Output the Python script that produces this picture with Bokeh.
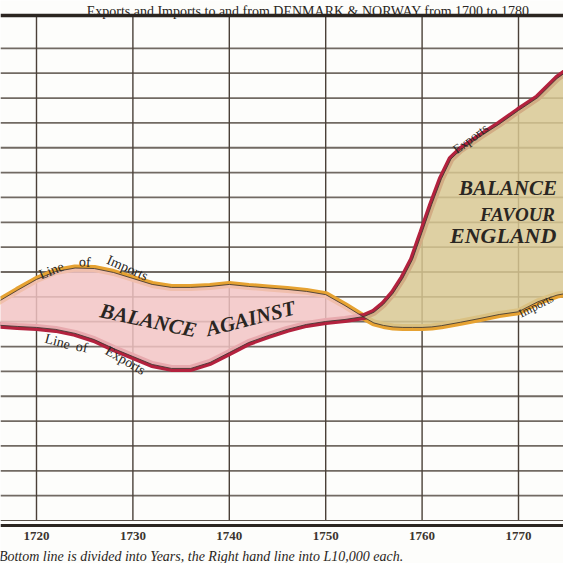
import numpy as np
from bokeh.plotting import figure
from bokeh.models import Range1d, Span
from bokeh.core.properties import value
from bokeh.embed import file_html
from bokeh.resources import INLINE

# ---- data (units of £10,000) ----
years = [1716, 1718, 1720, 1722, 1724, 1726, 1728, 1730, 1732, 1734, 1736, 1738,
         1740, 1742, 1744, 1746, 1748, 1750, 1752, 1754, 1755, 1756, 1757, 1758,
         1759, 1760, 1761, 1762, 1763, 1764, 1766, 1768, 1770, 1772, 1774, 1776]
imports = [8.80, 9.26, 9.70, 10.02, 10.16, 10.14, 9.98, 9.74, 9.50, 9.38, 9.38, 9.42,
           9.50, 9.42, 9.36, 9.30, 9.22, 9.09, 8.65, 8.17, 7.95, 7.85, 7.79, 7.77,
           7.77, 7.77, 7.79, 7.84, 7.91, 7.98, 8.13, 8.29, 8.40, 8.80, 9.07, 9.22]
exports = [7.86, 7.81, 7.77, 7.69, 7.53, 7.28, 6.92, 6.60, 6.28, 6.12, 6.12, 6.36,
           6.76, 7.16, 7.44, 7.69, 7.89, 8.01, 8.09, 8.21, 8.38, 8.70, 9.15, 9.75,
           10.50, 11.60, 12.72, 13.75, 14.55, 14.92, 15.45, 15.95, 16.50, 17.02, 17.79, 18.35]
decade_ticks = [1720, 1730, 1740, 1750, 1760, 1770]
decade_labels = ["1720", "1730", "1740", "1750", "1760", "1770"]
value_lines = list(range(1, 20))
chart_top = 20.32

title_text = "Exports and Imports to and from DENMARK & NORWAY from 1700 to 1780."
footer_text = "Bottom line is divided into Years, the Right hand line into L10,000 each."

X_START, X_END = 1716.266, 1774.668
Y_START, Y_END = -1.730, 20.926

p = figure(width=563, height=563, x_range=Range1d(X_START, X_END),
           y_range=Range1d(Y_START, Y_END), x_axis_type=None, y_axis_type=None,
           toolbar_location=None, output_backend="svg", title=None,
           min_border_left=0, min_border_right=0, min_border_top=0, min_border_bottom=0,
           outline_line_color=None, background_fill_color="#fdfdfb",
           border_fill_color="#fdfdfb")

# grid
p.segment(x0=X_START, y0=value_lines, x1=X_END, y1=value_lines,
          line_color="#625a52", line_width=1.8, line_alpha=0.9)
p.segment(x0=decade_ticks, y0=0, x1=decade_ticks, y1=chart_top,
          line_color="#4a4038", line_width=1.4)

# thick coloured lines
p.line(years, imports, line_color="#e6a232", line_width=7)
p.line(years, exports, line_color="#b3223e", line_width=7)

# balance fills
imp = np.array(imports, dtype=float)
exp = np.array(exports, dtype=float)
yrs = np.array(years, dtype=float)
diff = imp - exp
k = int(np.where((diff[:-1] > 0) & (diff[1:] <= 0))[0][0])
t = diff[k] / (diff[k] - diff[k + 1])
xc = yrs[k] + t * (yrs[k + 1] - yrs[k])
yc = imp[k] + t * (imp[k + 1] - imp[k])
pink_x = list(yrs[:k + 1]) + [xc]
pink_lo = list(exp[:k + 1]) + [yc]
pink_hi = list(imp[:k + 1]) + [yc]
tan_x = [xc] + list(yrs[k + 1:])
tan_lo = [yc] + list(imp[k + 1:])
tan_hi = [yc] + list(exp[k + 1:])
p.varea(x=pink_x, y1=pink_lo, y2=pink_hi, fill_color="#f2c3c4", fill_alpha=0.84)
p.varea(x=tan_x, y1=tan_lo, y2=tan_hi, fill_color="#d8c791", fill_alpha=0.84)

# thin dark edges
p.line(years, imports, line_color="#3d3530", line_width=1, line_alpha=0.85)
p.line(years, exports, line_color="#3d3530", line_width=1, line_alpha=0.85)

serif = value("Liberation Serif")
ink = "#2a2622"

# small curved labels
p.text(x=[1721.56, 1725.0, 1729.44], y=[10.06, 10.40, 10.16],
       text=["Line", "of", "Imports"], angle=[22, -3, -24], angle_units="deg",
       text_font=serif, text_font_size="14px", text_align="center",
       text_baseline="middle", text_color=ink)
p.text(x=[1722.18, 1724.7, 1729.23], y=[7.20, 6.98, 6.44],
       text=["Line", "of", "Exports"], angle=[-15, -10, -30], angle_units="deg",
       text_font=serif, text_font_size="14px", text_align="center",
       text_baseline="middle", text_color=ink)
p.text(x=[1765.02], y=[15.37], text=["Exports"], angle=37, angle_units="deg",
       text_font=serif, text_font_size="13px", text_align="center",
       text_baseline="middle", text_color=ink)
p.text(x=[1770.1], y=[8.30], text=["Imports"], angle=27, angle_units="deg",
       text_font=serif, text_font_size="12px", text_align="left",
       text_baseline="middle", text_color=ink)

# big labels
p.text(x=[1731.62, 1742.20], y=[8.05, 8.13], text=["BALANCE", "AGAINST"],
       angle=[-12, 14], angle_units="deg", text_font=serif, text_font_size="21px",
       text_font_style="bold italic", text_align="center", text_baseline="middle",
       text_color=ink)
p.text(x=[1768.9], y=[13.40], text=["BALANCE"], text_font=serif, text_font_size="21px",
       text_font_style="bold italic", text_align="center", text_baseline="middle",
       text_color=ink)
p.text(x=[1769.9], y=[12.31], text=["FAVOUR"], text_font=serif, text_font_size="19px",
       text_font_style="bold italic", text_align="center", text_baseline="middle",
       text_color=ink)
p.text(x=[1762.9], y=[11.47], text=["ENGLAND"], text_font=serif, text_font_size="22px",
       text_font_style="bold italic", text_align="left", text_baseline="middle",
       text_color=ink)

# borders
p.add_layout(Span(location=chart_top, dimension="width", line_color="#2b2520", line_width=3.5))
p.add_layout(Span(location=0, dimension="width", line_color="#5a524a", line_width=1.2))
p.add_layout(Span(location=-0.2, dimension="width", line_color="#2b2520", line_width=3.2))

# year labels under the bottom border
p.text(x=decade_ticks, y=-0.62, text=decade_labels, text_font=serif,
       text_font_size="13px", text_font_style="bold", text_align="center",
       text_baseline="middle", text_color="#3b342e")

# title (top) and footer (bottom)
p.text(x=[1771.5], y=[20.49], text=[title_text], text_font=serif,
       text_font_size="14px", text_align="right", text_baseline="alphabetic",
       text_color=ink)
p.text(x=[1716.1], y=[-1.45], text=[footer_text], text_font=serif,
       text_font_size="14px", text_font_style="italic", text_align="left",
       text_baseline="alphabetic", text_color=ink)

open("out.html", "w").write(file_html(p, INLINE))
